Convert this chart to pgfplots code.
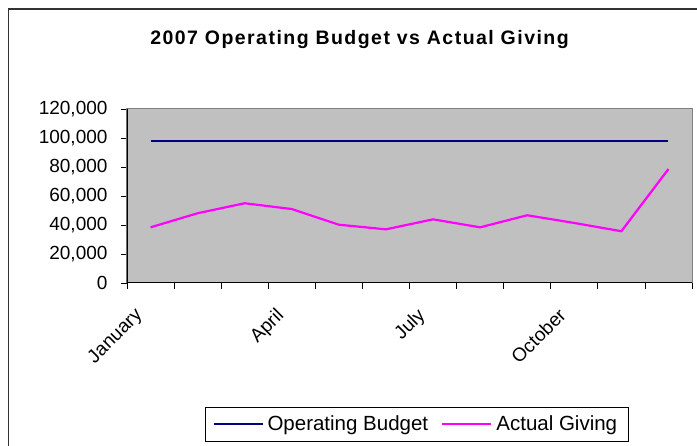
\documentclass[border=0pt]{standalone}
\usepackage{fontspec}
\setmainfont{Liberation Sans}
\newfontfamily\titlefont[LetterSpace=7.5]{Liberation Sans}
\usepackage{pgfplots}
\pgfplotsset{compat=1.18}
\definecolor{plotgray}{HTML}{C0C0C0}
\definecolor{budget}{HTML}{000080}
\definecolor{giving}{HTML}{FF00FF}
\newcommand{\chartfont}{\fontsize{19}{22}\selectfont}
\begin{document}
\begin{tikzpicture}[x=1pt,y=1pt]
\path[use as bounding box] (0,0) rectangle (697,446);
% outer chart frame (cut off at right and bottom)
\draw[line width=1.6pt, black!80] (8.5,-5) -- (8.5,437) -- (705,437);
\node[font=\titlefont\fontsize{19.5}{22}\selectfont\bfseries] at (359.5,406.5) {2007 Operating Budget vs Actual Giving};
\begin{axis}[
    at={(127pt,163pt)}, anchor=south west,
    scale only axis, width=565pt, height=174pt,
    xmin=0.5, xmax=12.5, ymin=0, ymax=120000,
    axis background/.style={fill=plotgray},
    axis line style={draw=black!50, line width=1pt},
    ytick={0,20000,...,120000},
    scaled y ticks=false,
    yticklabel style={xshift=-10pt, /pgf/number format/.cd, fixed, 1000 sep={,}, assume math mode=true},
    xtick={1,4,7,10},
    xticklabels={January,April,July,October},
    minor xtick={0.5,1.5,...,12.5},
    tick align=outside,
    tick pos=left,
    major tick length=6pt,
    minor tick length=6pt,
    tick style={black, line width=0.8pt},
    major x tick style={draw=none},
    ticklabel style={font=\chartfont},
    xticklabel style={xshift=-17pt, yshift=-13pt, rotate=45, anchor=north east},
    legend columns=2,
    legend style={at={(rel axis cs:0.513,-0.812)}, anchor=center, draw=black,
      font=\fontsize{20.5}{24}\selectfont, line width=0.8pt, inner xsep=7pt, inner ysep=7pt,
      nodes={inner xsep=4pt},
      /tikz/every even column/.append style={column sep=9pt}},
    legend image code/.code={\draw[#1] plot coordinates {(0pt,0pt) (24pt,0pt) (49pt,0pt)};},
  ]
  \addplot[budget, line width=2pt] coordinates {
    (1,98000) (2,98000) (3,98000) (4,98000) (5,98000) (6,98000)
    (7,98000) (8,98000) (9,98000) (10,98000) (11,98000) (12,98000)
  };
  \addplot[giving, line width=2.2pt] coordinates {
    (1,38400) (2,48100) (3,55000) (4,51000) (5,40200) (6,37000)
    (7,43900) (8,38400) (9,46700) (10,41400) (11,35700) (12,78600)
  };
  \legend{Operating Budget, Actual Giving}
  % black value and category axes over the grey plot-area border
  \draw[black, line width=1.2pt] (rel axis cs:0,1) -- (rel axis cs:0,0) -- (rel axis cs:1,0);
\end{axis}
\end{tikzpicture}
\end{document}
